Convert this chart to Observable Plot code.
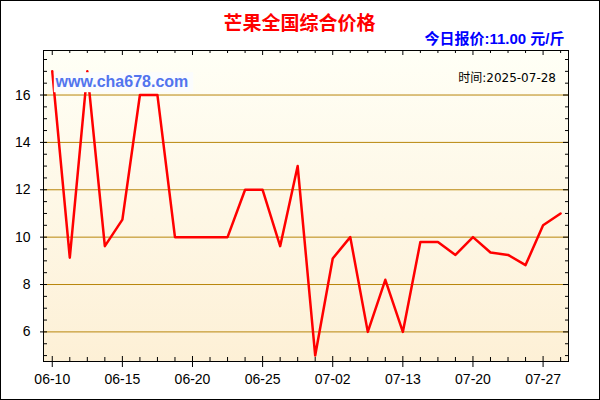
<!DOCTYPE html>
<html>
<head>
<meta charset="utf-8">
<script src="https://cdn.jsdelivr.net/npm/d3@7"></script>
<script src="https://cdn.jsdelivr.net/npm/@observablehq/plot@0.6"></script>
<style>
  body { margin: 0; background: #fff; }
  #chart svg { display: block; outline: 1px solid #000; outline-offset: -1px; background: #fff; }
</style>
</head>
<body>
<svg width="0" height="0" style="position:absolute">
  <defs>
    <linearGradient id="bg" x1="0" y1="0" x2="0" y2="1">
      <stop offset="0%" stop-color="#fffff6"/>
      <stop offset="100%" stop-color="#fdf0d6"/>
    </linearGradient>
  </defs>
</svg>
<div id="chart"></div>
<script>
const title = "芒果全国综合价格";
const subtitle = "今日报价:11.00 元/斤";
const watermark = "www.cha678.com";
const timeText = "时间:2025-07-28";

const prices = [17.0, 9.13, 17.0, 9.62, 10.74, 16.0, 16.0, 10.0, 10.0, 10.0,
                10.0, 12.0, 12.0, 9.62, 13.0, 5.0, 9.1, 10.0, 6.0, 8.2,
                6.0, 9.8, 9.8, 9.25, 10.0, 9.35, 9.25, 8.82, 10.5, 11.0];
const tickIndex = [0, 4, 8, 12, 16, 20, 24, 28];
const tickLabels = ["06-10", "06-15", "06-20", "06-25", "07-02", "07-13", "07-20", "07-27"];
const yMajor = [6, 8, 10, 12, 14, 16];

const data = prices.map((v, i) => ({i, v}));
const yMinor = d3.range(5, 18, 0.5).filter(v => !yMajor.includes(v));
const xMinor = d3.range(0, prices.length).filter(i => !tickIndex.includes(i));

const W = 600, H = 400, mL = 43, mR = 32, mT = 50, mB = 39;
const fw = W - mL - mR, fh = H - mT - mB;
const labelFont = "Liberation Sans, Arial, sans-serif";
const cjkFont = "Noto Sans CJK SC, sans-serif";

const chart = Plot.plot({
  width: W, height: H,
  marginLeft: mL, marginRight: mR, marginTop: mT, marginBottom: mB,
  x: {domain: [-0.5, 29.45], label: null},
  y: {domain: [4.75, 17.88], label: null},
  style: {background: "#fff"},
  marks: [
    Plot.frame({fill: "url(#bg)"}),
    Plot.ruleY(yMajor, {stroke: "#b8860b", strokeWidth: 1}),
    Plot.line(data, {x: "i", y: "v", stroke: "#ff0000", strokeWidth: 2.5}),
    // watermark box and text
    Plot.frame({fill: "#fbfcfd", insetLeft: 10.3, insetRight: fw - 149.7, insetTop: 21.7, insetBottom: fh - 41.7}),
    Plot.text([watermark], {frameAnchor: "top-left", dx: 12, dy: 31, textAnchor: "start", lineAnchor: "middle",
      fill: "#5274ee", fontSize: 16, fontWeight: "bold", fontFamily: labelFont}),
    Plot.text([timeText], {frameAnchor: "top-right", dx: -12.5, dy: 27.5, textAnchor: "end", lineAnchor: "middle",
      fill: "#000", fontSize: 12, fontFamily: "DejaVu Sans, " + cjkFont}),
    Plot.frame({stroke: "#000", strokeWidth: 1}),
    // left ticks
    Plot.tickY(yMajor, {y: d => d, insetLeft: -3, insetRight: fw - 4, stroke: "#000"}),
    Plot.tickY(yMinor, {y: d => d, insetLeft: 0, insetRight: fw - 4, stroke: "#000"}),
    // right ticks
    Plot.tickY(yMajor, {y: d => d, insetLeft: fw - 5, insetRight: 0, stroke: "#000"}),
    Plot.tickY(yMinor, {y: d => d, insetLeft: fw - 3, insetRight: 0, stroke: "#000"}),
    // bottom ticks
    Plot.tickX(tickIndex, {x: d => d, insetTop: fh - 5, insetBottom: -6, stroke: "#000"}),
    Plot.tickX(xMinor, {x: d => d, insetTop: fh - 4, insetBottom: 0, stroke: "#000"}),
    // top ticks
    Plot.tickX(tickIndex, {x: d => d, insetTop: 0, insetBottom: fh - 5, stroke: "#000"}),
    Plot.tickX(xMinor, {x: d => d, insetTop: 0, insetBottom: fh - 3, stroke: "#000"}),
    // axes labels
    Plot.axisY({ticks: yMajor, tickSize: 0, tickPadding: 13, fontSize: 14,
      fontFamily: labelFont, fill: "#000", label: null}),
    Plot.axisX({ticks: tickIndex, tickFormat: i => tickLabels[tickIndex.indexOf(i)],
      tickSize: 0, tickPadding: 13, fontSize: 14, fontFamily: labelFont, fill: "#000", label: null}),
    // titles
    Plot.text([title], {frameAnchor: "top", dx: -6.5, dy: -26.3, lineAnchor: "middle", fill: "#ff0000",
      fontSize: 19, fontWeight: "bold", fontFamily: cjkFont}),
    Plot.text([subtitle], {frameAnchor: "top-right", dx: -4, dy: -11.7, textAnchor: "end", lineAnchor: "middle",
      fill: "#0000ff", fontSize: 15, fontWeight: "bold", fontFamily: "Liberation Sans, " + cjkFont})
  ]
});
document.getElementById("chart").appendChild(chart);
</script>
</body>
</html>
